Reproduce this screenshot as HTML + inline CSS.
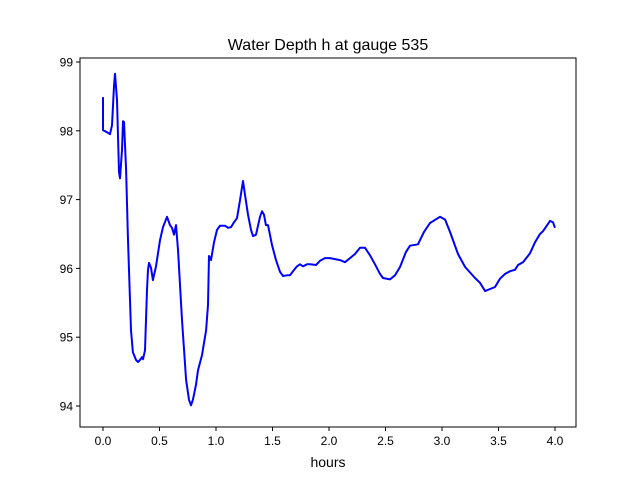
<!DOCTYPE html>
<html><head><meta charset="utf-8"><style>
body{margin:0;background:#fff;}
svg text{font-family:"Liberation Sans","DejaVu Sans",sans-serif;fill:#000;}
</style></head><body>
<svg width="640" height="480">
<rect width="640" height="480" fill="#fff"/>
<text x="328" y="50" font-size="16" text-anchor="middle">Water Depth h at gauge 535</text>
<g id="axes"></g>
<path id="line" fill="none" stroke="#0000ff" stroke-width="2" stroke-linejoin="round"/>
<rect x="80" y="58" width="496" height="369" fill="none" stroke="#000" stroke-width="1"/>
<text x="328" y="467" font-size="14" text-anchor="middle">hours</text>
</svg>
<script>
const times=[0,0,0.035,0.062,0.080,0.097,0.106,0.124,0.142,0.150,0.168,0.177,0.186,0.204,0.221,0.239,0.248,0.265,0.292,0.310,0.327,0.345,0.354,0.372,0.389,0.398,0.407,0.425,0.442,0.469,0.504,0.531,0.566,0.593,0.611,0.628,0.646,0.664,0.699,0.735,0.761,0.779,0.796,0.823,0.841,0.876,0.912,0.929,0.938,0.956,0.982,1.009,1.035,1.080,1.106,1.133,1.159,1.186,1.212,1.239,1.257,1.283,1.310,1.327,1.354,1.389,1.407,1.425,1.442,1.460,1.496,1.531,1.566,1.593,1.628,1.655,1.681,1.717,1.743,1.770,1.805,1.832,1.885,1.920,1.965,2.009,2.097,2.142,2.186,2.230,2.274,2.319,2.363,2.407,2.451,2.478,2.540,2.584,2.628,2.681,2.717,2.788,2.841,2.894,2.982,3.027,3.071,3.142,3.204,3.292,3.336,3.381,3.469,3.513,3.558,3.602,3.646,3.673,3.717,3.779,3.823,3.867,3.894,3.956,3.982,4.0];
const depths=[98.49,98.01,97.98,97.95,98.08,98.65,98.83,98.45,97.40,97.31,97.72,98.14,98.13,97.43,96.41,95.54,95.10,94.78,94.67,94.64,94.67,94.71,94.68,94.81,95.69,95.98,96.08,96.01,95.83,96.03,96.41,96.60,96.75,96.63,96.59,96.49,96.63,96.27,95.25,94.38,94.09,94.01,94.09,94.31,94.52,94.74,95.10,95.47,96.18,96.12,96.38,96.56,96.62,96.62,96.59,96.60,96.67,96.73,96.99,97.27,97.07,96.78,96.56,96.47,96.49,96.75,96.83,96.78,96.63,96.63,96.34,96.12,95.95,95.89,95.90,95.90,95.96,96.03,96.06,96.03,96.06,96.06,96.05,96.11,96.15,96.15,96.12,96.09,96.15,96.21,96.30,96.30,96.19,96.06,95.92,95.86,95.84,95.90,96.02,96.24,96.33,96.35,96.53,96.66,96.75,96.71,96.53,96.21,96.02,95.86,95.79,95.67,95.73,95.85,95.92,95.96,95.98,96.05,96.09,96.22,96.38,96.50,96.54,96.69,96.67,96.59];
const xTicks=[0,0.5,1,1.5,2,2.5,3,3.5,4];
const xTickLabels=["0.0","0.5","1.0","1.5","2.0","2.5","3.0","3.5","4.0"];
const yTicks=[94,95,96,97,98,99];
const yTickLabels=["94","95","96","97","98","99"];
const xs=t=>103+t*113;
const ys=v=>62+(99-v)*68.8;
const NS="http://www.w3.org/2000/svg";
const ax=document.getElementById('axes');
function mk(tag,attrs){const e=document.createElementNS(NS,tag);for(const k in attrs)e.setAttribute(k,attrs[k]);ax.appendChild(e);return e;}
xTicks.forEach((t,i)=>{
 const l=mk('line',{x1:xs(t),x2:xs(t),y1:427,y2:431,stroke:'#000'});
 
 
 const tx=mk('text',{x:xs(t),y:445,'font-size':12,'text-anchor':'middle'});
 tx.textContent=xTickLabels[i];
 
 
});
yTicks.forEach((v,i)=>{
 const l=mk('line',{x1:76,x2:80,y1:ys(v),y2:ys(v),stroke:'#000'});
 
 
 const tx=mk('text',{x:73,y:ys(v)+4.5,'font-size':12,'text-anchor':'end'});
 tx.textContent=yTickLabels[i];
 
 
});
document.getElementById('line').setAttribute('d',times.map((t,i)=>(i?'L':'M')+xs(t).toFixed(1)+' '+ys(depths[i]).toFixed(1)).join(' '));
</script>
</body></html>
